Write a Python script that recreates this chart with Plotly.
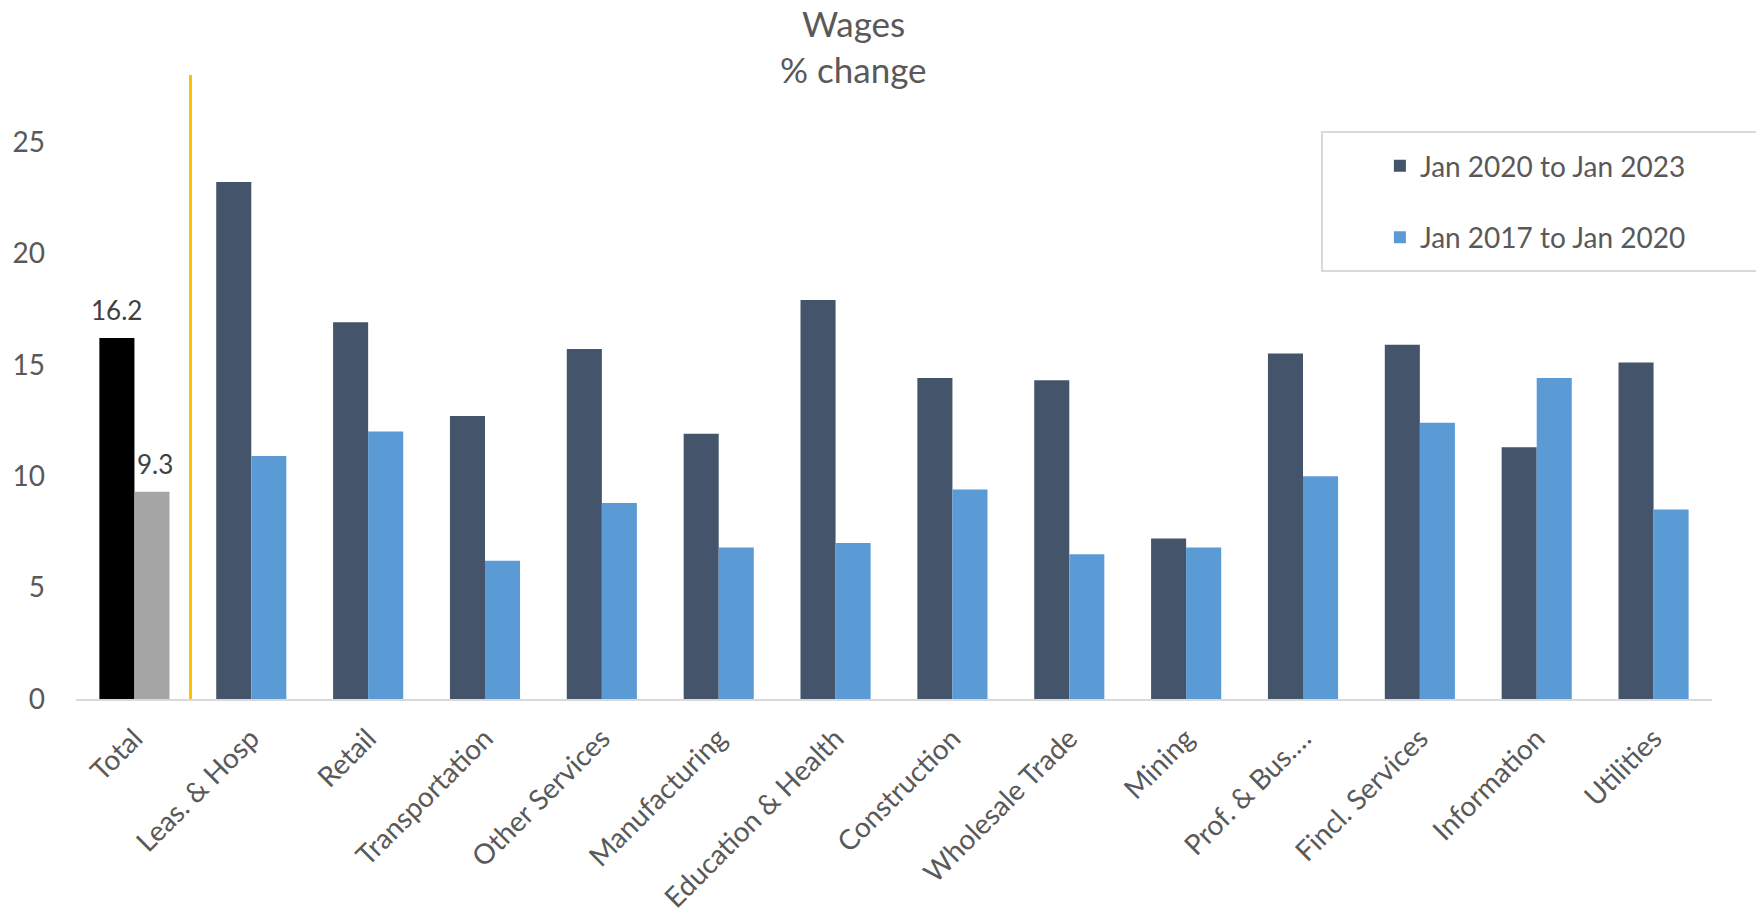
import plotly.graph_objects as go

# Wage growth by industry, % change
categories = ["Total", "Leas. & Hosp", "Retail", "Transportation", "Other Services",
              "Manufacturing", "Education & Health", "Construction", "Wholesale Trade",
              "Mining", "Prof. & Bus.…", "Fincl. Services", "Information", "Utilities"]
recent = [16.2, 23.2, 16.9, 12.7, 15.7, 11.9, 17.9, 14.4, 14.3, 7.2, 15.5, 15.9, 11.3, 15.1]
prior = [9.3, 10.9, 12.0, 6.2, 8.8, 6.8, 7.0, 9.4, 6.5, 6.8, 10.0, 12.4, 14.4, 8.5]
series_names = ["Jan 2020 to Jan 2023", "Jan 2017 to Jan 2020"]
title_lines = ["Wages", "% change"]
y_ticks = [0, 5, 10, 15, 20, 25]

FONT = "Lato"
TXT = "#595959"
DARK, LIGHT = "#44546A", "#5B9BD5"
TOTAL_DARK, TOTAL_LIGHT = "#000000", "#A5A5A5"

W, H = 1756, 918
ML, MR, MT, MB = 76, 44, 75, 219
plot_w = W - ML - MR
bar_px = plot_w / len(categories) * 0.6 / 2   # width of one bar in pixels

fig = go.Figure()

# industry bars (legend entries)
fig.add_trace(go.Bar(x=categories[1:], y=recent[1:], name=series_names[0],
                     marker=dict(color=DARK, line=dict(width=0)),
                     offsetgroup="a", legendgroup="a"))
fig.add_trace(go.Bar(x=categories[1:], y=prior[1:], name=series_names[1],
                     marker=dict(color=LIGHT, line=dict(width=0)),
                     offsetgroup="b", legendgroup="b"))

# total bars, highlighted
fig.add_trace(go.Bar(x=categories[:1], y=recent[:1], showlegend=False,
                     marker=dict(color=TOTAL_DARK, line=dict(width=0)),
                     offsetgroup="a"))
fig.add_trace(go.Bar(x=categories[:1], y=prior[:1], showlegend=False,
                     marker=dict(color=TOTAL_LIGHT, line=dict(width=0)),
                     offsetgroup="b"))

# value labels on the total bars
for val, side in ((recent[0], -1), (prior[0], 1)):
    fig.add_annotation(x=categories[0], y=val, xref="x", yref="y",
                       text=f"{val:.1f}", showarrow=False, yanchor="bottom",
                       xshift=side * bar_px / 2 + (3 if side > 0 else 0), yshift=10,
                       font=dict(family=FONT, size=26, color="#404040"))

# two-line chart title
for line, ypos in zip(title_lines, (1.083, 1.010)):
    fig.add_annotation(text=line, xref="paper", yref="paper", x=0.475, y=ypos,
                       xanchor="center", yanchor="middle", showarrow=False,
                       font=dict(family=FONT, size=35, color=TXT))

# separator between the total and the industries
fig.add_shape(type="line", xref="x", yref="paper", x0=0.48, x1=0.48, y0=0, y1=1,
              line=dict(color="#FFC000", width=3))

# legend frame
fig.add_shape(type="rect", xref="paper", yref="paper", x0=0.7616, x1=1.03,
              y0=0.686, y1=0.9087, line=dict(color="#D9D9D9", width=2),
              fillcolor="rgba(0,0,0,0)")

fig.update_layout(
    width=W, height=H,
    margin=dict(l=ML, r=MR, t=MT, b=MB, autoexpand=False),
    paper_bgcolor="white", plot_bgcolor="white",
    barmode="group", bargap=0.4, bargroupgap=0,
    font=dict(family=FONT, color=TXT),
    legend=dict(x=0.797, xanchor="left", xref="paper",
                y=0.797, yanchor="middle", yref="paper",
                bgcolor="rgba(0,0,0,0)", borderwidth=0,
                traceorder="grouped", tracegroupgap=32,
                font=dict(family=FONT, size=28, color=TXT)),
    xaxis=dict(showline=True, linecolor="#D9D9D9", linewidth=2,
               categoryorder="array", categoryarray=categories,
               tickangle=-45, ticks="", showgrid=False, ticklabelstandoff=10,
               tickfont=dict(family=FONT, size=28, color=TXT)),
    yaxis=dict(range=[0, 28], tickvals=y_ticks, showgrid=False, zeroline=False,
               showline=False, ticks="", ticklabelstandoff=30,
               tickfont=dict(family=FONT, size=28, color=TXT)),
)

fig.write_html("out.html")
